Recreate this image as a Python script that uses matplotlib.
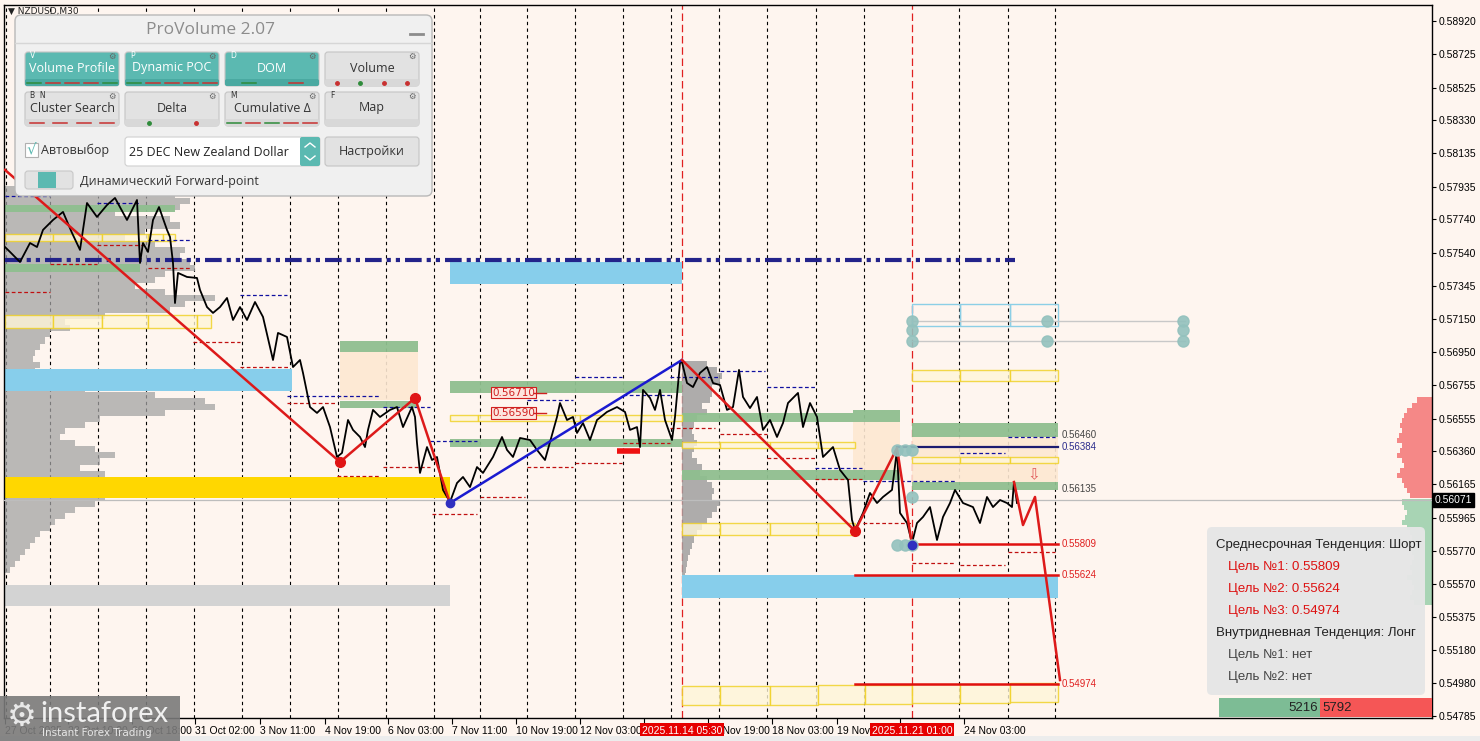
import numpy as np
import matplotlib.pyplot as plt
from matplotlib.patches import Rectangle, FancyBboxPatch

# ===========================
# Chart data (NZDUSD, M30) - x is the bar number, y is the price
# ===========================

PRICE_X = [5, 10, 20, 30, 37, 43, 53, 63, 72, 80, 87, 97, 107, 115, 127, 137, 140, 143, 148, 153,
           159, 167, 170, 173, 175, 178, 187, 197, 200, 207, 213, 220, 227, 233, 240, 247, 255, 263,
           273, 278, 287, 293, 300, 303, 310, 317, 323, 330, 337, 342, 348, 353, 360, 365, 368, 373,
           380, 390, 397, 403, 412, 415, 417, 420, 427, 432, 437, 443, 450, 457, 463, 470, 477, 483,
           493, 502, 507, 513, 520, 530, 537, 545, 550, 557, 560, 567, 573, 577, 583, 590, 597, 607,
           617, 625, 630, 637, 640, 643, 650, 655, 660, 665, 672, 675, 680, 682, 687, 693, 700, 707,
           713, 720, 727, 733, 739, 743, 750, 757, 763, 770, 777, 783, 788, 798, 803, 810, 817, 823,
           833, 840, 848, 852, 855, 863, 870, 877, 883, 892, 897, 900, 907, 912, 917, 923, 930, 937,
           943, 950, 955, 963, 973, 980, 987, 993, 1000, 1007, 1012, 1014, 1017]
PRICE_Y = [0.57576, 0.57547, 0.57487, 0.57600, 0.57576, 0.57678, 0.57737, 0.57785, 0.57660, 0.57559,
           0.57838, 0.57755, 0.57826, 0.57868, 0.57737, 0.57856, 0.57481, 0.57600, 0.57547, 0.57737,
           0.57814, 0.57678, 0.57636, 0.57481, 0.57243, 0.57422, 0.57398, 0.57392, 0.57321, 0.57219,
           0.57184, 0.57219, 0.57273, 0.57142, 0.57219, 0.57142, 0.57249, 0.57160, 0.56904, 0.57065,
           0.57041, 0.56862, 0.56904, 0.56827, 0.56624, 0.56589, 0.56624, 0.56505, 0.56327, 0.56351,
           0.56547, 0.56488, 0.56446, 0.56386, 0.56488, 0.56607, 0.56565, 0.56607, 0.56624, 0.56505,
           0.56624, 0.56565, 0.56410, 0.56232, 0.56386, 0.56309, 0.56327, 0.56131, 0.56059, 0.56172,
           0.56208, 0.56148, 0.56267, 0.56232, 0.56327, 0.56446, 0.56369, 0.56327, 0.56440, 0.56428,
           0.56369, 0.56309, 0.56416, 0.56565, 0.56648, 0.56547, 0.56565, 0.56470, 0.56529, 0.56428,
           0.56547, 0.56595, 0.56624, 0.56595, 0.56488, 0.56505, 0.56386, 0.56726, 0.56678, 0.56607,
           0.56726, 0.56547, 0.56428, 0.56565, 0.56886, 0.56892, 0.56767, 0.56743, 0.56827, 0.56862,
           0.56767, 0.56755, 0.56607, 0.56624, 0.56845, 0.56684, 0.56618, 0.56684, 0.56488, 0.56547,
           0.56446, 0.56529, 0.56648, 0.56708, 0.56505, 0.56648, 0.56565, 0.56327, 0.56386, 0.56250,
           0.56190, 0.55952, 0.55892, 0.55994, 0.56113, 0.56053, 0.56089, 0.56131, 0.56369, 0.55994,
           0.55934, 0.55815, 0.55934, 0.55970, 0.56029, 0.55833, 0.55970, 0.56053, 0.56131, 0.56053,
           0.56029, 0.55934, 0.56089, 0.56029, 0.56071, 0.56053, 0.56029, 0.56178, 0.56053]
LAST_PRICE = 0.56071

# zigzag swings
SWING_RED_X = [5, 340, 415, 450]
SWING_RED_Y = [0.58035, 0.56297, 0.56678, 0.56053]
SWING_BLUE_X = [450, 682]
SWING_BLUE_Y = [0.56053, 0.56904]
SWING_RED2_X = [682, 855, 897, 912]
SWING_RED2_Y = [0.56904, 0.55887, 0.56380, 0.55803]
FORECAST_X = [1014, 1023, 1035, 1060]
FORECAST_Y = [0.56178, 0.55922, 0.56089, 0.55000]

# axis ticks (labels hidden under the red time markers are left empty)
Y_TICKS = [0.58920, 0.58725, 0.58525, 0.58330, 0.58135, 0.57935, 0.57740, 0.57540, 0.57345, 0.57150,
           0.56950, 0.56755, 0.56555, 0.56360, 0.56165, 0.55965, 0.55770, 0.55570, 0.55375, 0.55180,
           0.54980, 0.54785]
X_TICK_POS = [5, 68, 132, 195, 260, 325, 388, 452, 516, 580, 644, 708, 772, 837, 900, 964]
X_TICK_LABELS = ['27 Oct 2025', '28 Oct 10:00', '29 Oct 18:00', '31 Oct 02:00', '3 Nov 11:00',
                 '4 Nov 19:00', '6 Nov 03:00', '7 Nov 11:00', '10 Nov 19:00', '12 Nov 03:00',
                 '', '14 Nov 19:00', '18 Nov 03:00', '19 Nov 11:00', '', '24 Nov 03:00']
DAY_SEPARATORS = [6, 50, 98, 146, 194, 242, 290, 338, 386, 434, 480, 527, 575, 623, 671, 719, 767,
                  816, 864, 959, 1008, 1055]
MARKED_BARS = [682, 912]
MARKED_LABELS = ['2025.11.14 05:30', '2025.11.21 01:00']

# volume profiles (top price, price step, widths in bars)
PROFILE_L_TOP, PROFILE_L_STEP = 0.57920, 0.00036
PROFILE_L = [120, 170, 185, 175, 110, 165, 175, 140, 120, 150, 180, 175, 185, 190, 160, 150, 130,
             160, 210, 180, 165, 100, 60, 65, 45, 40, 35, 30, 28, 35, 30, 40, 55, 80, 150, 200, 210,
             160, 95, 80, 60, 55, 70, 90, 110, 95, 75, 100, 115, 120, 110, 100, 90, 70, 60, 50, 45,
             35, 30, 25, 20, 15, 10, 5]
PROFILE_M_TOP, PROFILE_M_STEP = 0.56880, 0.00036
PROFILE_M = [25, 35, 40, 38, 30, 30, 28, 20, 25, 15, 12, 10, 12, 15, 12, 10, 15, 20, 18, 25, 30, 32,
             30, 38, 35, 30, 25, 20, 15, 12, 10, 8, 6, 5, 4, 3, 2]
DOM_ASK_TOP, DOM_BID_TOP, DOM_STEP = 0.56666, 0.56059, 0.0003
DOM_ASK = [15, 20, 25, 28, 30, 32, 30, 33, 35, 30, 32, 35, 30, 28, 32, 35, 30, 28, 25, 22]
DOM_BID = [30, 28, 25, 27, 30, 25, 22, 20, 25, 22, 20, 18, 20, 22, 20, 25, 20, 18, 20, 22, 18]

# zones: (first bar, last bar, low price, high price)
GREEN_ZONES = [(5, 175, 0.57785, 0.57826), (5, 140, 0.57427, 0.57475), (340, 418, 0.56952, 0.57017),
               (340, 418, 0.56618, 0.56660), (450, 682, 0.56708, 0.56779), (450, 682, 0.56386, 0.56434),
               (682, 853, 0.56535, 0.56589), (853, 900, 0.56535, 0.56607), (682, 900, 0.56190, 0.56250),
               (912, 1058, 0.56446, 0.56529), (912, 1058, 0.56131, 0.56178)]
PEACH_ZONES = [(340, 418, 0.56666, 0.56952), (853, 900, 0.56250, 0.56535), (912, 1058, 0.56178, 0.56446)]
SKY_ZONES = [(450, 682, 0.57356, 0.57487), (5, 292, 0.56720, 0.56850), (682, 1058, 0.55488, 0.55625)]
GOLD_ZONES = [(5, 450, 0.56083, 0.56208)]
GRAY_ZONES = [(5, 450, 0.55440, 0.55565)]
YELLOW_BOXES = [(5, 53, 0.57612, 0.57654), (53, 102, 0.57612, 0.57654), (102, 148, 0.57612, 0.57654),
                (148, 163, 0.57612, 0.57654), (163, 175, 0.57612, 0.57654),
                (5, 53, 0.57094, 0.57172), (53, 102, 0.57094, 0.57172), (102, 148, 0.57094, 0.57172),
                (148, 197, 0.57094, 0.57172), (197, 211, 0.57094, 0.57172),
                (450, 478, 0.56541, 0.56577), (478, 580, 0.56541, 0.56577), (580, 682, 0.56541, 0.56577),
                (682, 720, 0.56380, 0.56416), (720, 770, 0.56380, 0.56416), (770, 818, 0.56380, 0.56416),
                (818, 855, 0.56380, 0.56416),
                (682, 720, 0.55863, 0.55934), (720, 770, 0.55863, 0.55934), (770, 818, 0.55863, 0.55934),
                (818, 855, 0.55863, 0.55934),
                (912, 960, 0.56779, 0.56845), (960, 1010, 0.56779, 0.56845), (1010, 1058, 0.56779, 0.56845),
                (912, 960, 0.56291, 0.56327), (960, 1010, 0.56291, 0.56327), (1010, 1058, 0.56291, 0.56327),
                (682, 720, 0.54851, 0.54964), (720, 770, 0.54851, 0.54964), (770, 818, 0.54851, 0.54964),
                (818, 865, 0.54857, 0.54970), (865, 912, 0.54857, 0.54970), (912, 960, 0.54863, 0.54976),
                (960, 1010, 0.54863, 0.54976), (1010, 1058, 0.54869, 0.54982)]
CYAN_BOXES = [(912, 960, 0.57106, 0.57237), (960, 1010, 0.57106, 0.57237), (1010, 1058, 0.57106, 0.57237)]

# daily high / low dashed lines: (first bar, last bar, price)
DAY_HIGHS = [(5, 50, 0.57880), (97, 140, 0.57838), (148, 192, 0.57618), (240, 287, 0.57291),
             (287, 380, 0.56690), (383, 430, 0.56624), (430, 477, 0.56422), (527, 573, 0.56666),
             (575, 622, 0.56803), (623, 670, 0.56696), (670, 720, 0.56803), (720, 765, 0.56839),
             (767, 815, 0.56743), (815, 862, 0.56261), (863, 955, 0.56184), (960, 1005, 0.56351),
             (1008, 1055, 0.56446)]
DAY_LOWS = [(5, 50, 0.57309), (50, 97, 0.57475), (97, 145, 0.57588), (148, 190, 0.57451),
            (193, 240, 0.57011), (240, 290, 0.56862), (287, 335, 0.56648), (337, 380, 0.56214),
            (383, 430, 0.56267), (432, 477, 0.55988), (480, 525, 0.56089), (527, 573, 0.56267),
            (575, 622, 0.56291), (623, 670, 0.56410), (670, 715, 0.56499), (720, 767, 0.56464),
            (767, 815, 0.56321), (815, 862, 0.56196), (863, 912, 0.55934), (912, 955, 0.55696),
            (960, 1005, 0.55684), (1008, 1055, 0.55762)]

# key levels
NAVY_LEVEL = (5, 1015, 0.57499)
POC_LEVEL = (897, 1058, 0.56384)
TARGETS = [(912, 1058, 0.55809), (855, 1058, 0.55624), (855, 1058, 0.54974)]
RIGHT_LABELS = [(0.56460, '#444444'), (0.56384, '#2b2b8c'), (0.56135, '#444444'),
                (0.55809, '#e02020'), (0.55624, '#e02020'), (0.54974, '#e02020')]
TAG_LEVELS = [(492, 0.56710), (492, 0.56590)]
CIRCLES_X = [912, 912, 912, 1047, 1047, 1183, 1183, 1183, 897, 905, 912, 897, 905, 912, 912]
CIRCLES_Y = [0.57136, 0.57083, 0.57017, 0.57136, 0.57017, 0.57136, 0.57083, 0.57017,
             0.56369, 0.56369, 0.56369, 0.55803, 0.55803, 0.55803, 0.56089]

# info panel
TREND_LINES = [('Среднесрочная Тенденция: Шорт', '#222222', 0),
               ('Цель №1: 0.55809', '#dd1111', 12),
               ('Цель №2: 0.55624', '#dd1111', 12),
               ('Цель №3: 0.54974', '#dd1111', 12),
               ('Внутридневная Тенденция: Лонг', '#222222', 0),
               ('Цель №1: нет', '#444444', 12),
               ('Цель №2: нет', '#444444', 12)]
BUY_VOL, SELL_VOL = 5216, 5792

BG = '#fef5ef'
TEAL = '#5bb9b1'
AXIS_FONT = 'Liberation Sans'


def draw_zones(ax, zones, **kw):
    for x0, x1, lo, hi in zones:
        ax.add_patch(Rectangle((x0, lo), x1 - x0, hi - lo, **kw))


def draw_chart(ax):
    ax.set_facecolor(BG)
    ax.set_xlim(4, 1432)
    ax.set_ylim(0.54774, 0.59016)

    for x in DAY_SEPARATORS:
        ax.axvline(x, color='black', lw=0.8, ls=(0, (3, 3)), zorder=1)
    for x in MARKED_BARS:
        ax.axvline(x, color='#e02020', lw=0.9, ls=(0, (6, 3)), zorder=1)

    # volume profiles
    p = PROFILE_L_TOP - PROFILE_L_STEP * np.arange(len(PROFILE_L))
    ax.barh(p, PROFILE_L, height=PROFILE_L_STEP, left=5, color='#a4a4a4', alpha=0.75, lw=0, zorder=1.5)
    p = PROFILE_M_TOP - PROFILE_M_STEP * np.arange(len(PROFILE_M))
    ax.barh(p, PROFILE_M, height=PROFILE_M_STEP, left=682, color='#a0a0a0', alpha=0.85, lw=0, zorder=1.5)
    p = DOM_ASK_TOP - DOM_STEP * np.arange(len(DOM_ASK))
    ax.barh(p, [-w for w in DOM_ASK], height=DOM_STEP, left=1432, color='#f47c7c', alpha=0.9, lw=0, zorder=1.5)
    p = DOM_BID_TOP - DOM_STEP * np.arange(len(DOM_BID))
    ax.barh(p, [-w for w in DOM_BID], height=DOM_STEP, left=1432, color='#9fd1ae', alpha=0.9, lw=0, zorder=1.5)

    draw_zones(ax, PEACH_ZONES, fc='#fde8d2', ec='none', alpha=0.9, zorder=2)
    draw_zones(ax, GREEN_ZONES, fc='#8fbf8f', ec='none', alpha=0.95, zorder=2.2)
    draw_zones(ax, SKY_ZONES, fc='#87ceeb', ec='none', zorder=2.2)
    draw_zones(ax, GOLD_ZONES, fc='#ffd700', ec='none', zorder=2.2)
    draw_zones(ax, GRAY_ZONES, fc='#d3d3d3', ec='none', zorder=2.2)
    draw_zones(ax, YELLOW_BOXES, fc='#fff6d8', ec='#f0d020', lw=1.0, alpha=0.8, zorder=2.5)
    draw_zones(ax, CYAN_BOXES, fc='none', ec='#8ccfe6', lw=1.0, zorder=2.5)

    for x0, x1, y in DAY_HIGHS:
        ax.plot([x0, x1], [y, y], color='#1010a0', lw=0.9, ls=(0, (3, 2)), zorder=3)
    for x0, x1, y in DAY_LOWS:
        ax.plot([x0, x1], [y, y], color='#c01010', lw=0.9, ls=(0, (3, 2)), zorder=3)

    ax.axhline(LAST_PRICE, color='#bdbdbd', lw=0.9, zorder=2.8)
    x0, x1, y = NAVY_LEVEL
    ax.plot([x0, x1], [y, y], color='#23238a', lw=3, ls=(0, (4, 1.2, 1, 1.2, 1, 1.2)), zorder=3.5)
    x0, x1, y = POC_LEVEL
    ax.plot([x0, x1], [y, y], color='#1c1c70', lw=1.6, zorder=3.5)
    for x0, x1, y in TARGETS:
        ax.plot([x0, x1], [y, y], color='#e01010', lw=1.8, zorder=3.5)
    for y, c in RIGHT_LABELS:
        ax.text(1062, y, f'{y:.5f}', color=c, fontsize=7, va='center', ha='left',
                family=AXIS_FONT, zorder=6)

    ax.plot([912, 1185], [CIRCLES_Y[0]] * 2, color='#c8c8c8', lw=1, zorder=2.6)
    ax.plot([912, 1185], [CIRCLES_Y[2]] * 2, color='#c8c8c8', lw=1, zorder=2.6)

    # price
    ax.plot(PRICE_X, PRICE_Y, color='black', lw=1.3, zorder=5)

    # swings
    ax.plot(SWING_RED_X, SWING_RED_Y, color='#dd1a1a', lw=1.8, zorder=6)
    ax.plot(SWING_BLUE_X, SWING_BLUE_Y, color='#1a1ad0', lw=1.8, zorder=6)
    ax.plot(SWING_RED2_X, SWING_RED2_Y, color='#dd1a1a', lw=1.8, zorder=6)
    ax.plot(FORECAST_X, FORECAST_Y, color='#dd1a1a', lw=1.8, zorder=6)
    ax.plot(SWING_RED_X[1:3] + SWING_RED2_X[1:2], SWING_RED_Y[1:3] + SWING_RED2_Y[1:2],
            'o', color='#e01515', ms=7, zorder=7)
    ax.plot([SWING_BLUE_X[0], SWING_RED2_X[-1]], [SWING_BLUE_Y[0], SWING_RED2_Y[-1]],
            'o', color='#3030c0', ms=6, zorder=7)
    ax.plot(CIRCLES_X, CIRCLES_Y, 'o', color='#93c1bd', ms=8, alpha=0.9, zorder=6.5)
    ax.text(1034, 0.56178, '⇩', color='#e05a5a', fontsize=11, ha='center', va='bottom', zorder=7)

    # tagged levels
    for x, y in TAG_LEVELS:
        ax.text(x, y, f'{y:.5f}', color='#d02020', fontsize=7.5, va='center', ha='left', zorder=7,
                bbox=dict(fc='#fde6df', ec='#d02020', lw=0.8, pad=0.6))
        ax.plot([534, 546], [y, y], color='#d02020', lw=1, zorder=7)
    ax.plot([617, 640], [0.56363, 0.56363], color='#ee1111', lw=4, solid_capstyle='butt', zorder=6)

    # axes
    for s in ax.spines.values():
        s.set_color('black')
        s.set_linewidth(1)
    ax.yaxis.tick_right()
    ax.set_yticks(Y_TICKS)
    ax.set_yticklabels([f'{v:.5f}' for v in Y_TICKS], family=AXIS_FONT)
    ax.tick_params(axis='y', labelsize=7.5, length=3, pad=2)
    ax.set_xticks(X_TICK_POS)
    ax.set_xticklabels(X_TICK_LABELS, family=AXIS_FONT)
    ax.tick_params(axis='x', labelsize=7.5, length=4, pad=2)
    for lbl in ax.get_xticklabels():
        lbl.set_ha('left')
    for x, t in zip(MARKED_BARS, MARKED_LABELS):
        ax.annotate(t, xy=(x, 0), xycoords=('data', 'axes fraction'), xytext=(0, -9),
                    textcoords='offset points', ha='center', va='center', fontsize=7.5, color='white',
                    family=AXIS_FONT, bbox=dict(fc='#e60000', ec='none', pad=1.5),
                    annotation_clip=False, zorder=10)
    ax.annotate(f'{LAST_PRICE:.5f}', xy=(1, LAST_PRICE), xycoords=('axes fraction', 'data'),
                xytext=(2, 0), textcoords='offset points', ha='left', va='center', fontsize=7.5,
                color='white', family=AXIS_FONT, bbox=dict(fc='black', ec='black', pad=1.2),
                annotation_clip=False)
    ax.text(8, 0.58976, '▼ NZDUSD,M30', fontsize=6.5, va='center', color='#222222', zorder=4)


def box(ui, x0, y0, x1, y1, fc, ec='none', lw=0.8, r=3, z=10, alpha=1.0):
    ui.add_patch(FancyBboxPatch((x0 + r, y0 + r), x1 - x0 - 2 * r, y1 - y0 - 2 * r,
                                boxstyle=f'round,pad={r}', fc=fc, ec=ec, lw=lw, alpha=alpha, zorder=z))


def button(ui, x, y, label, teal, tag, marks):
    w, h = 94, 34
    box(ui, x, y, x + w, y + h, TEAL if teal else '#e2e2e2', ec='#c4c4c4', r=3, z=11)
    box(ui, x, y + h - 7, x + w, y + h, '#4aa9a1' if teal else '#d8d8d8', r=2, z=11.5)
    fg = 'white' if teal else '#333333'
    ui.text(x + w / 2, y + 16, label, ha='center', va='center', fontsize=9, color=fg,
            family='Open Sans', zorder=12)
    if tag:
        ui.text(x + 5, y + 4, tag, ha='left', va='center', fontsize=5.5, color=fg, zorder=12)
    ui.text(x + w - 7, y + 4, '⚙', ha='center', va='center', fontsize=6, color='#666666', zorder=12)
    n = len(marks)
    for i, (kind, c) in enumerate(marks):
        cx = x + w * (i + 0.5) / n
        if kind == '-':
            ui.plot([cx - 7, cx + 7], [y + h - 3.5] * 2, color=c, lw=1.1, zorder=12)
        else:
            ui.plot(cx, y + h - 3.5, 'o', color=c, ms=2.5, zorder=12)


def draw_panel(ui):
    box(ui, 15, 15, 432, 196, '#f0f0f0', ec='#b8b8b8', lw=1, r=6, z=10)
    ui.plot([15, 432], [43, 43], color='#d6d6d6', lw=1, zorder=10.5)
    ui.text(210, 30, 'ProVolume 2.07', ha='center', va='center', fontsize=12.5, color='#8c8c8c',
            family='Open Sans', zorder=12)
    ui.plot([410, 423], [34, 34], color='#8c8c8c', lw=2, zorder=12)
    g, r = '#2e8b3a', '#c83030'
    button(ui, 25, 52, 'Volume Profile', True, 'V', [('-', g), ('-', r), ('-', r), ('-', r), ('-', g)])
    button(ui, 125, 52, 'Dynamic POC', True, 'P', [('-', g), ('-', r), ('-', r), ('-', r), ('-', r)])
    button(ui, 225, 52, 'DOM', True, 'D', [('-', g), ('-', r)])
    button(ui, 325, 52, 'Volume', False, '', [('o', r), ('o', g), ('o', r), ('o', r)])
    button(ui, 25, 92, 'Cluster Search', False, 'B  N', [('-', r), ('-', r), ('-', r), ('-', r)])
    button(ui, 125, 92, 'Delta', False, '', [('o', g), ('o', r)])
    button(ui, 225, 92, 'Cumulative Δ', False, 'M', [('-', g), ('-', r), ('-', g), ('-', r), ('-', r)])
    button(ui, 325, 92, 'Map', False, 'F', [])

    ui.add_patch(Rectangle((25, 143), 13, 14, fc='white', ec='#b0b0b0', lw=0.8, zorder=11))
    ui.text(31, 149, '√', ha='center', va='center', fontsize=11, color=TEAL, zorder=12)
    ui.text(41, 150, 'Автовыбор', ha='left', va='center', fontsize=9, color='#333333',
            family='Open Sans', zorder=12)
    box(ui, 125, 137, 320, 166, 'white', ec='#d0d0d0', r=3, z=11)
    box(ui, 300, 137, 320, 166, TEAL, r=2, z=11.5)
    ui.plot([305, 310, 315], [147, 143, 147], color='white', lw=1, zorder=12)
    ui.plot([305, 310, 315], [156, 160, 156], color='white', lw=1, zorder=12)
    ui.text(129, 152, '25 DEC New Zealand Dollar', ha='left', va='center', fontsize=9, color='#222222',
            family='Open Sans', zorder=12)
    box(ui, 325, 137, 419, 166, '#e2e2e2', ec='#c4c4c4', r=3, z=11)
    ui.text(372, 152, 'Настройки', ha='center', va='center', fontsize=9, color='#333333',
            family='Open Sans', zorder=12)
    box(ui, 25, 171, 73, 189, '#e2e2e2', ec='#c8c8c8', r=3, z=11)
    ui.add_patch(Rectangle((38, 172), 18, 16, fc=TEAL, ec='none', zorder=12))
    ui.text(80, 181, 'Динамический Forward-point', ha='left', va='center', fontsize=9,
            color='#333333', family='Open Sans', zorder=12)


def draw_info(ui):
    box(ui, 1207, 527, 1425, 695, '#e6e6e6', r=5, z=10, alpha=0.97)
    for i, (t, c, dx) in enumerate(TREND_LINES):
        ui.text(1216 + dx, 545 + 22 * i, t, ha='left', va='center', fontsize=9.5, color=c,
                family='Liberation Sans', zorder=12)
    total = BUY_VOL + SELL_VOL
    split = 1219 + (1432 - 1219) * BUY_VOL / total
    ui.add_patch(Rectangle((1219, 698), split - 1219, 19, fc='#7dbc95', ec='none', zorder=11))
    ui.add_patch(Rectangle((split, 698), 1432 - split, 19, fc='#f55656', ec='none', zorder=11))
    ui.text(split - 2, 708, str(BUY_VOL), ha='right', va='center', fontsize=9.5, color='#222222',
            family='Liberation Sans', zorder=12)
    ui.text(split + 2, 708, str(SELL_VOL), ha='left', va='center', fontsize=9.5, color='#222222',
            family='Liberation Sans', zorder=12)


def draw_logo(ui):
    ui.add_patch(Rectangle((0, 696), 180, 45, fc='#7a7a7a', ec='none', alpha=0.9, zorder=20))
    ui.text(22, 716, '⚙', ha='center', va='center', fontsize=24, color='#e8e8e8', zorder=21)
    ui.text(40, 714, 'instaforex', ha='left', va='center', fontsize=21, color='#f0f0f0',
            family='Lato', zorder=21)
    ui.text(42, 733, 'Instant Forex Trading', ha='left', va='center', fontsize=7.5, color='#e6e6e6',
            zorder=21)
    ui.add_patch(Rectangle((0, 736), 1480, 5, fc='#ececec', ec='none', zorder=19))


# ===========================
# Main
# ===========================

if __name__ == '__main__':
    fig = plt.figure(figsize=(14.8, 7.41), dpi=100, facecolor=BG)
    ax = fig.add_axes([4 / 1480, 23 / 741, 1428 / 1480, 713 / 741])
    draw_chart(ax)

    ui = fig.add_axes([0, 0, 1, 1], zorder=5)
    ui.set_xlim(0, 1480)
    ui.set_ylim(741, 0)
    ui.axis('off')
    draw_panel(ui)
    draw_info(ui)
    draw_logo(ui)

    fig.savefig('out.png', dpi=100, facecolor=BG)
    plt.close(fig)
